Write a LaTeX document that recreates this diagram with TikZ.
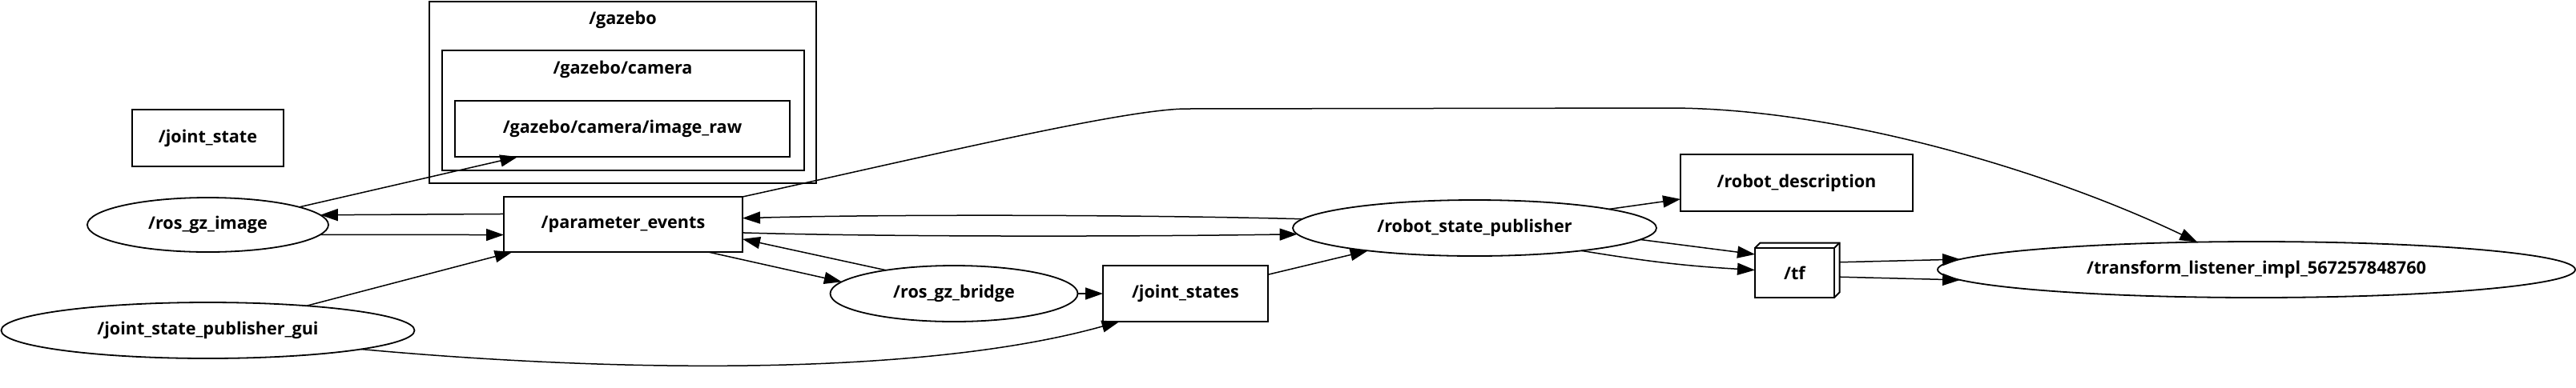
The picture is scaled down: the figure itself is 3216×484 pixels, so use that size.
\documentclass[tikz,border=0pt]{standalone}
\usepackage{fontspec}
\setmainfont{Open Sans}
\usetikzlibrary{arrows.meta,positioning,calc,shapes.geometric}

\begin{document}
\begin{tikzpicture}[
		x=0.5pt,
		y=-0.5pt,
		>={Triangle[length=11pt,width=7.5pt]},
		every node/.style={font=\fontsize{10.8}{13}\selectfont\bfseries},
		topicbox/.style={draw,rectangle,line width=1pt,inner sep=0pt,outer sep=0pt},
		procnode/.style={draw,ellipse,line width=0.9pt,inner sep=0pt,outer sep=0pt},
		grouplabel/.style={inner sep=0pt},
		groupbox/.style={line width=1pt},
		edge/.style={->,line width=0.75pt}
	]
	
	% Fixed frame
	\useasboundingbox (0,0) rectangle (3216,484);
	
	% Gazebo namespace boxes
	\draw[groupbox] (536,1.5) rectangle (1019,229);
	\draw[groupbox] (552,63) rectangle (1004,213);
	\node[grouplabel] (gazebolbl) at (777.5,25) {/gazebo};
	\node[grouplabel] (cameralbl) at (777.5,87) {/gazebo/camera};
	
	% Topics
	\node[topicbox,minimum width=94.5pt,minimum height=35.5pt] (jointstate) at (259.5,172.5) {/joint\_state};
	\node[topicbox,minimum width=209pt,minimum height=35pt] (imageraw) at (777,161) {/gazebo/camera/image\_raw};
	\node[topicbox,minimum width=149pt,minimum height=34.5pt] (paramevents) at (778,280.5) {/parameter\_events};
	\node[topicbox,minimum width=103pt,minimum height=35pt] (jointstates) at (1480,367) {/joint\_states};
	\node[topicbox,minimum width=145pt,minimum height=35.5pt] (robotdesc) at (2243,228.5) {/robot\_description};
	\node[topicbox,minimum width=49.5pt,minimum height=31pt] (tf) at (2240.5,341) {/tf};
	
	% Box look of /tf
	\draw[line width=1pt] (tf.north west) -- ++(6.5,-6.5) -- ($(tf.north east)+(6.5,-6.5)$)
	-- ($(tf.south east)+(6.5,-6.5)$) -- (tf.south east);
	\draw[line width=1pt] (tf.north east) -- ++(6.5,-6.5);
	
	% Processes
	\node[procnode,minimum width=150.5pt,minimum height=34pt] (rosgzimage) at (259.5,281) {/ros\_gz\_image};
	\node[procnode,minimum width=258pt,minimum height=35pt] (jspgui) at (259.5,413) {/joint\_state\_publisher\_gui};
	\node[procnode,minimum width=154.5pt,minimum height=35pt] (rosgzbridge) at (1191,367) {/ros\_gz\_bridge};
	\node[procnode,minimum width=227pt,minimum height=35pt] (rsp) at (1841,285) {/robot\_state\_publisher};
	\node[procnode,minimum width=398pt,minimum height=35pt] (tflistener) at (2817,337) {/transform\_listener\_impl\_567257848760};
	
	% Left side
	\draw[edge] (rosgzimage.11) -- (imageraw.195);
	\draw[edge] (paramevents.175) -- (rosgzimage.5);
	\draw[edge] (rosgzimage.-5) -- (paramevents.185);
	\draw[edge] (jspgui.14.5) -- (paramevents.194);
	\draw[edge] (jspgui.-7) .. controls (749,464) and (1144,473) .. (jointstates.203);
	
	% Middle
	\draw[edge] (paramevents.-18) -- (rosgzbridge.174);
	\draw[edge] (rosgzbridge.161) -- (paramevents.-7);
	\draw[edge] (paramevents.-4.4) .. controls (1100,296) and (1400,296) .. (rsp.182.6);
	\draw[edge] (rsp.177) .. controls (1400,268) and (1100,268) .. (paramevents.3.3);
	\draw[edge] (rosgzbridge) -- (jointstates);
	\draw[edge] (jointstates.13) -- (rsp.192);
	
	% Right side
	\draw[edge] (rsp.8) -- (robotdesc.188);
	\draw[edge] (rsp.-4) -- (tf.155);
	\draw[edge] (rsp.-12.5) to[bend right=3] (tf.176);
	\draw[edge] ([xshift=3.5pt]tf.15) -- (tflistener.178);
	\draw[edge] ([xshift=3.5pt]tf.-6) -- (tflistener.182);
	
	% Long arc over the top
	\draw[edge] (paramevents.north east) .. controls (1150,197) and (1400,137) .. (1480,136)
	-- (2087,135) .. controls (2300,136) and (2560,215) .. (tflistener.155);
	
\end{tikzpicture}
\end{document}
